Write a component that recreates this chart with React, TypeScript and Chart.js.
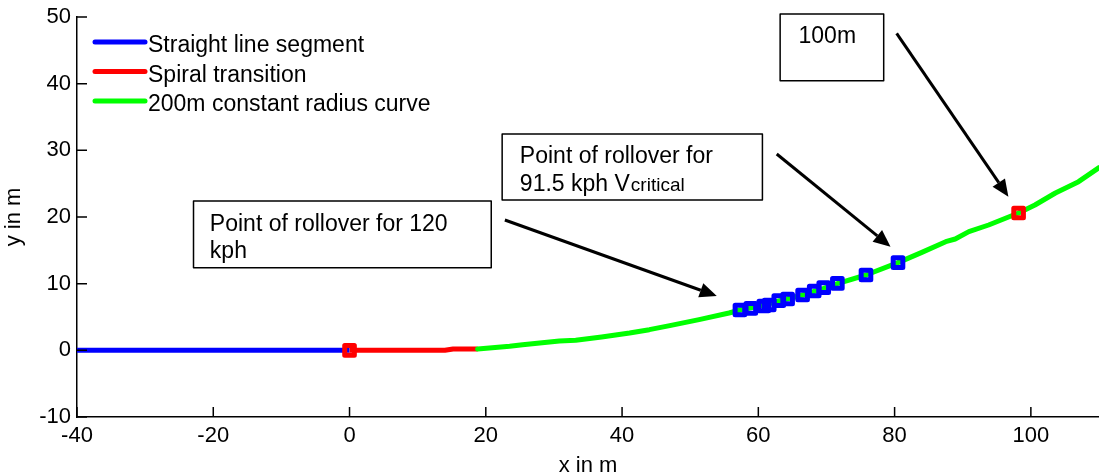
import React, { useEffect, useRef } from "react";
import { Chart, registerables } from "chart.js";

Chart.register(...registerables);

const FONT = '"Liberation Sans", Arial, Helvetica, sans-serif';

// ---- data ----
const xTicks = [-40, -20, 0, 20, 40, 60, 80, 100];
const yTicks = [-10, 0, 10, 20, 30, 40, 50];

const straightX = [-40, 0];
const straightY = [0, 0];

const spiralX = [0, 14, 15.2, 18.8];
const spiralY = [0, 0, 0.2, 0.2];

const curveX = [18.8, 23.5, 25.4, 30.8, 33.2, 37, 41.1, 44, 47, 51.3, 55.7, 57.3, 60, 63, 66.5, 69.6, 71.6, 75.8, 80.5, 84, 87.5, 88.9, 90.9, 93.8, 98.2, 100.6, 103.6, 107, 110];
const curveY = [0.2, 0.6, 0.85, 1.4, 1.5, 2.0, 2.6, 3.1, 3.7, 4.6, 5.6, 6.05, 6.6, 7.4, 8.3, 9.3, 10.0, 11.3, 13.15, 14.7, 16.3, 16.7, 17.8, 18.8, 20.6, 21.8, 23.6, 25.3, 27.4];

const rolloverX = [57.3, 58.9, 60.8, 61.6, 63.0, 64.3, 66.5, 68.2, 69.6, 71.6, 75.8, 80.5];
const rolloverY = [6.05, 6.3, 6.65, 6.8, 7.45, 7.7, 8.3, 8.9, 9.4, 10.05, 11.3, 13.15];

const keyPointX = [0, 98.2];
const keyPointY = [0, 20.6];

const legendLabels = ["Straight line segment", "Spiral transition", "200m constant radius curve"];
const legendColors = ["#0000ff", "#ff0000", "#00ff00"];

// annotation boxes (data coordinates): [left, top, right, bottom]
const boxes = [
  { rect: [-22.9, 22.4, 20.8, 12.4], textX: -20.5, lines: [{ y: 17.9, text: "Point of rollover for 120" }, { y: 13.8, text: "kph" }] },
  { rect: [22.4, 32.45, 60.6, 22.55], textX: 25.0, lines: [{ y: 28.05, text: "Point of rollover for" }, { y: 23.9, text: "91.5 kph V", sub: "critical" }] },
  { rect: [63.2, 50.45, 78.4, 40.45], textX: 65.9, lines: [{ y: 46.05, text: "100m" }] },
];

// arrows (data coordinates): [x0, y0, x1(tip), y1(tip)]
const arrows = [
  [22.8, 19.55, 53.9, 8.15],
  [62.7, 29.45, 79.4, 15.55],
  [80.3, 47.55, 96.7, 23.05],
];

const toPts = (xs: number[], ys: number[]) => xs.map((x, i) => ({ x, y: ys[i] }));

const zeroPad = (s: any) => {
  s.paddingLeft = 0;
  s.paddingRight = 0;
  s.paddingTop = 0;
  s.paddingBottom = 0;
};

const decorPlugin = {
  id: "decor",
  beforeDatasetsDraw(chart: any) {
    chart.ctx.lineJoin = "round";
  },
  afterDraw(chart: any) {
    const { ctx, chartArea, scales } = chart;
    const xs = scales.x;
    const ys = scales.y;
    ctx.save();
    // inward ticks
    ctx.strokeStyle = "#000";
    ctx.lineWidth = 1.5;
    ctx.beginPath();
    xTicks.forEach((v) => {
      const px = xs.getPixelForValue(v);
      ctx.moveTo(px, chartArea.bottom);
      ctx.lineTo(px, chartArea.bottom - 10);
    });
    yTicks.forEach((v) => {
      const py = ys.getPixelForValue(v);
      ctx.moveTo(chartArea.left, py);
      ctx.lineTo(chartArea.left + 10, py);
    });
    ctx.stroke();

    // legend
    ctx.lineCap = "round";
    ctx.font = `23px ${FONT}`;
    ctx.textBaseline = "alphabetic";
    ctx.textAlign = "left";
    legendLabels.forEach((lab, i) => {
      const ly = chartArea.top + 25 + i * 29.5;
      ctx.strokeStyle = legendColors[i];
      ctx.lineWidth = 5;
      ctx.beginPath();
      ctx.moveTo(chartArea.left + 18, ly);
      ctx.lineTo(chartArea.left + 68, ly);
      ctx.stroke();
      ctx.fillStyle = "#000";
      ctx.fillText(lab, chartArea.left + 71, ly + 10);
    });

    // text boxes
    ctx.lineCap = "butt";
    boxes.forEach((b) => {
      const l = xs.getPixelForValue(b.rect[0]);
      const t = ys.getPixelForValue(b.rect[1]);
      const r = xs.getPixelForValue(b.rect[2]);
      const bt = ys.getPixelForValue(b.rect[3]);
      ctx.strokeStyle = "#000";
      ctx.lineWidth = 1.5;
      ctx.strokeRect(l, t, r - l, bt - t);
      ctx.fillStyle = "#000";
      const tx = xs.getPixelForValue(b.textX);
      b.lines.forEach((ln: any) => {
        const ty = ys.getPixelForValue(ln.y);
        ctx.font = `23px ${FONT}`;
        ctx.fillText(ln.text, tx, ty);
        if (ln.sub) {
          const w = ctx.measureText(ln.text).width;
          ctx.font = `19px ${FONT}`;
          ctx.fillText(ln.sub, tx + w + 1, ty);
        }
      });
    });

    // arrows
    arrows.forEach((a) => {
      const x0 = xs.getPixelForValue(a[0]);
      const y0 = ys.getPixelForValue(a[1]);
      const x1 = xs.getPixelForValue(a[2]);
      const y1 = ys.getPixelForValue(a[3]);
      const ang = Math.atan2(y1 - y0, x1 - x0);
      const hl = 17;
      const hw = 7.5;
      const bx = x1 - hl * Math.cos(ang);
      const by = y1 - hl * Math.sin(ang);
      ctx.strokeStyle = "#000";
      ctx.lineWidth = 3;
      ctx.beginPath();
      ctx.moveTo(x0, y0);
      ctx.lineTo(bx, by);
      ctx.stroke();
      ctx.fillStyle = "#000";
      ctx.beginPath();
      ctx.moveTo(x1, y1);
      ctx.lineTo(bx + hw * Math.sin(ang), by - hw * Math.cos(ang));
      ctx.lineTo(bx - hw * Math.sin(ang), by + hw * Math.cos(ang));
      ctx.closePath();
      ctx.fill();
    });
    ctx.restore();
  },
};

export default function App() {
  const ref = useRef<HTMLCanvasElement | null>(null);
  useEffect(() => {
    if (!ref.current) return;
    const markerCommon = {
      showLine: false,
      pointStyle: "rect" as const,
      pointRadius: 6.8,
      pointBorderWidth: 5,
      pointBackgroundColor: "rgba(0,0,0,0)",
      pointHoverRadius: 6.8,
    };
    const chart = new Chart(ref.current, {
      type: "scatter",
      data: {
        datasets: [
          { ...markerCommon, data: toPts(keyPointX, keyPointY), borderColor: "#ff0000", pointBorderColor: "#ff0000" } as any,
          { ...markerCommon, data: toPts(rolloverX, rolloverY), borderColor: "#0000ff", pointBorderColor: "#0000ff" } as any,
          { data: toPts(curveX, curveY), showLine: true, borderColor: "#00ff00", borderWidth: 5, pointRadius: 0, borderJoinStyle: "round", borderCapStyle: "round" } as any,
          { data: toPts(spiralX, spiralY), showLine: true, borderColor: "#ff0000", borderWidth: 5, pointRadius: 0, borderJoinStyle: "round" } as any,
          { data: toPts(straightX, straightY), showLine: true, borderColor: "#0000ff", borderWidth: 5, pointRadius: 0 } as any,
        ],
      },
      options: {
        responsive: false,
        animation: false,
        events: [],
        layout: { autoPadding: false, padding: { top: 17, right: 0, left: 0, bottom: 0 } },
        plugins: { legend: { display: false }, tooltip: { enabled: false } },
        scales: {
          x: {
            type: "linear",
            min: -40,
            max: 110,
            afterBuildTicks: (s: any) => { s.ticks = xTicks.map((v) => ({ value: v })); },
            afterFit: (s: any) => { s.height = 59; zeroPad(s); },
            grid: { display: false, drawTicks: false },
            border: { display: true, color: "#000", width: 1.5 },
            ticks: { color: "#000", font: { family: FONT, size: 22 }, padding: 6, maxRotation: 0, autoSkip: false },
            title: { display: true, text: "x in m", color: "#000", font: { family: FONT, size: 22 }, padding: { top: 0, bottom: -3 } },
          },
          y: {
            type: "linear",
            min: -10,
            max: 50,
            afterBuildTicks: (s: any) => { s.ticks = yTicks.map((v) => ({ value: v })); },
            afterFit: (s: any) => { s.width = 77; zeroPad(s); },
            grid: { display: false, drawTicks: false },
            border: { display: true, color: "#000", width: 1.5 },
            ticks: { color: "#000", font: { family: FONT, size: 22 }, padding: 6, autoSkip: false },
            title: { display: true, text: "y in m", color: "#000", font: { family: FONT, size: 22 }, padding: { top: 1, bottom: 0 } },
          },
        },
      },
      plugins: [decorPlugin],
    });
    return () => chart.destroy();
  }, []);
  return (
    <div style={{ position: "absolute", left: 0, top: 0, width: 1099, height: 476, background: "#fff" }}>
      <canvas ref={ref} width={1099} height={476} style={{ display: "block" }} />
    </div>
  );
}
